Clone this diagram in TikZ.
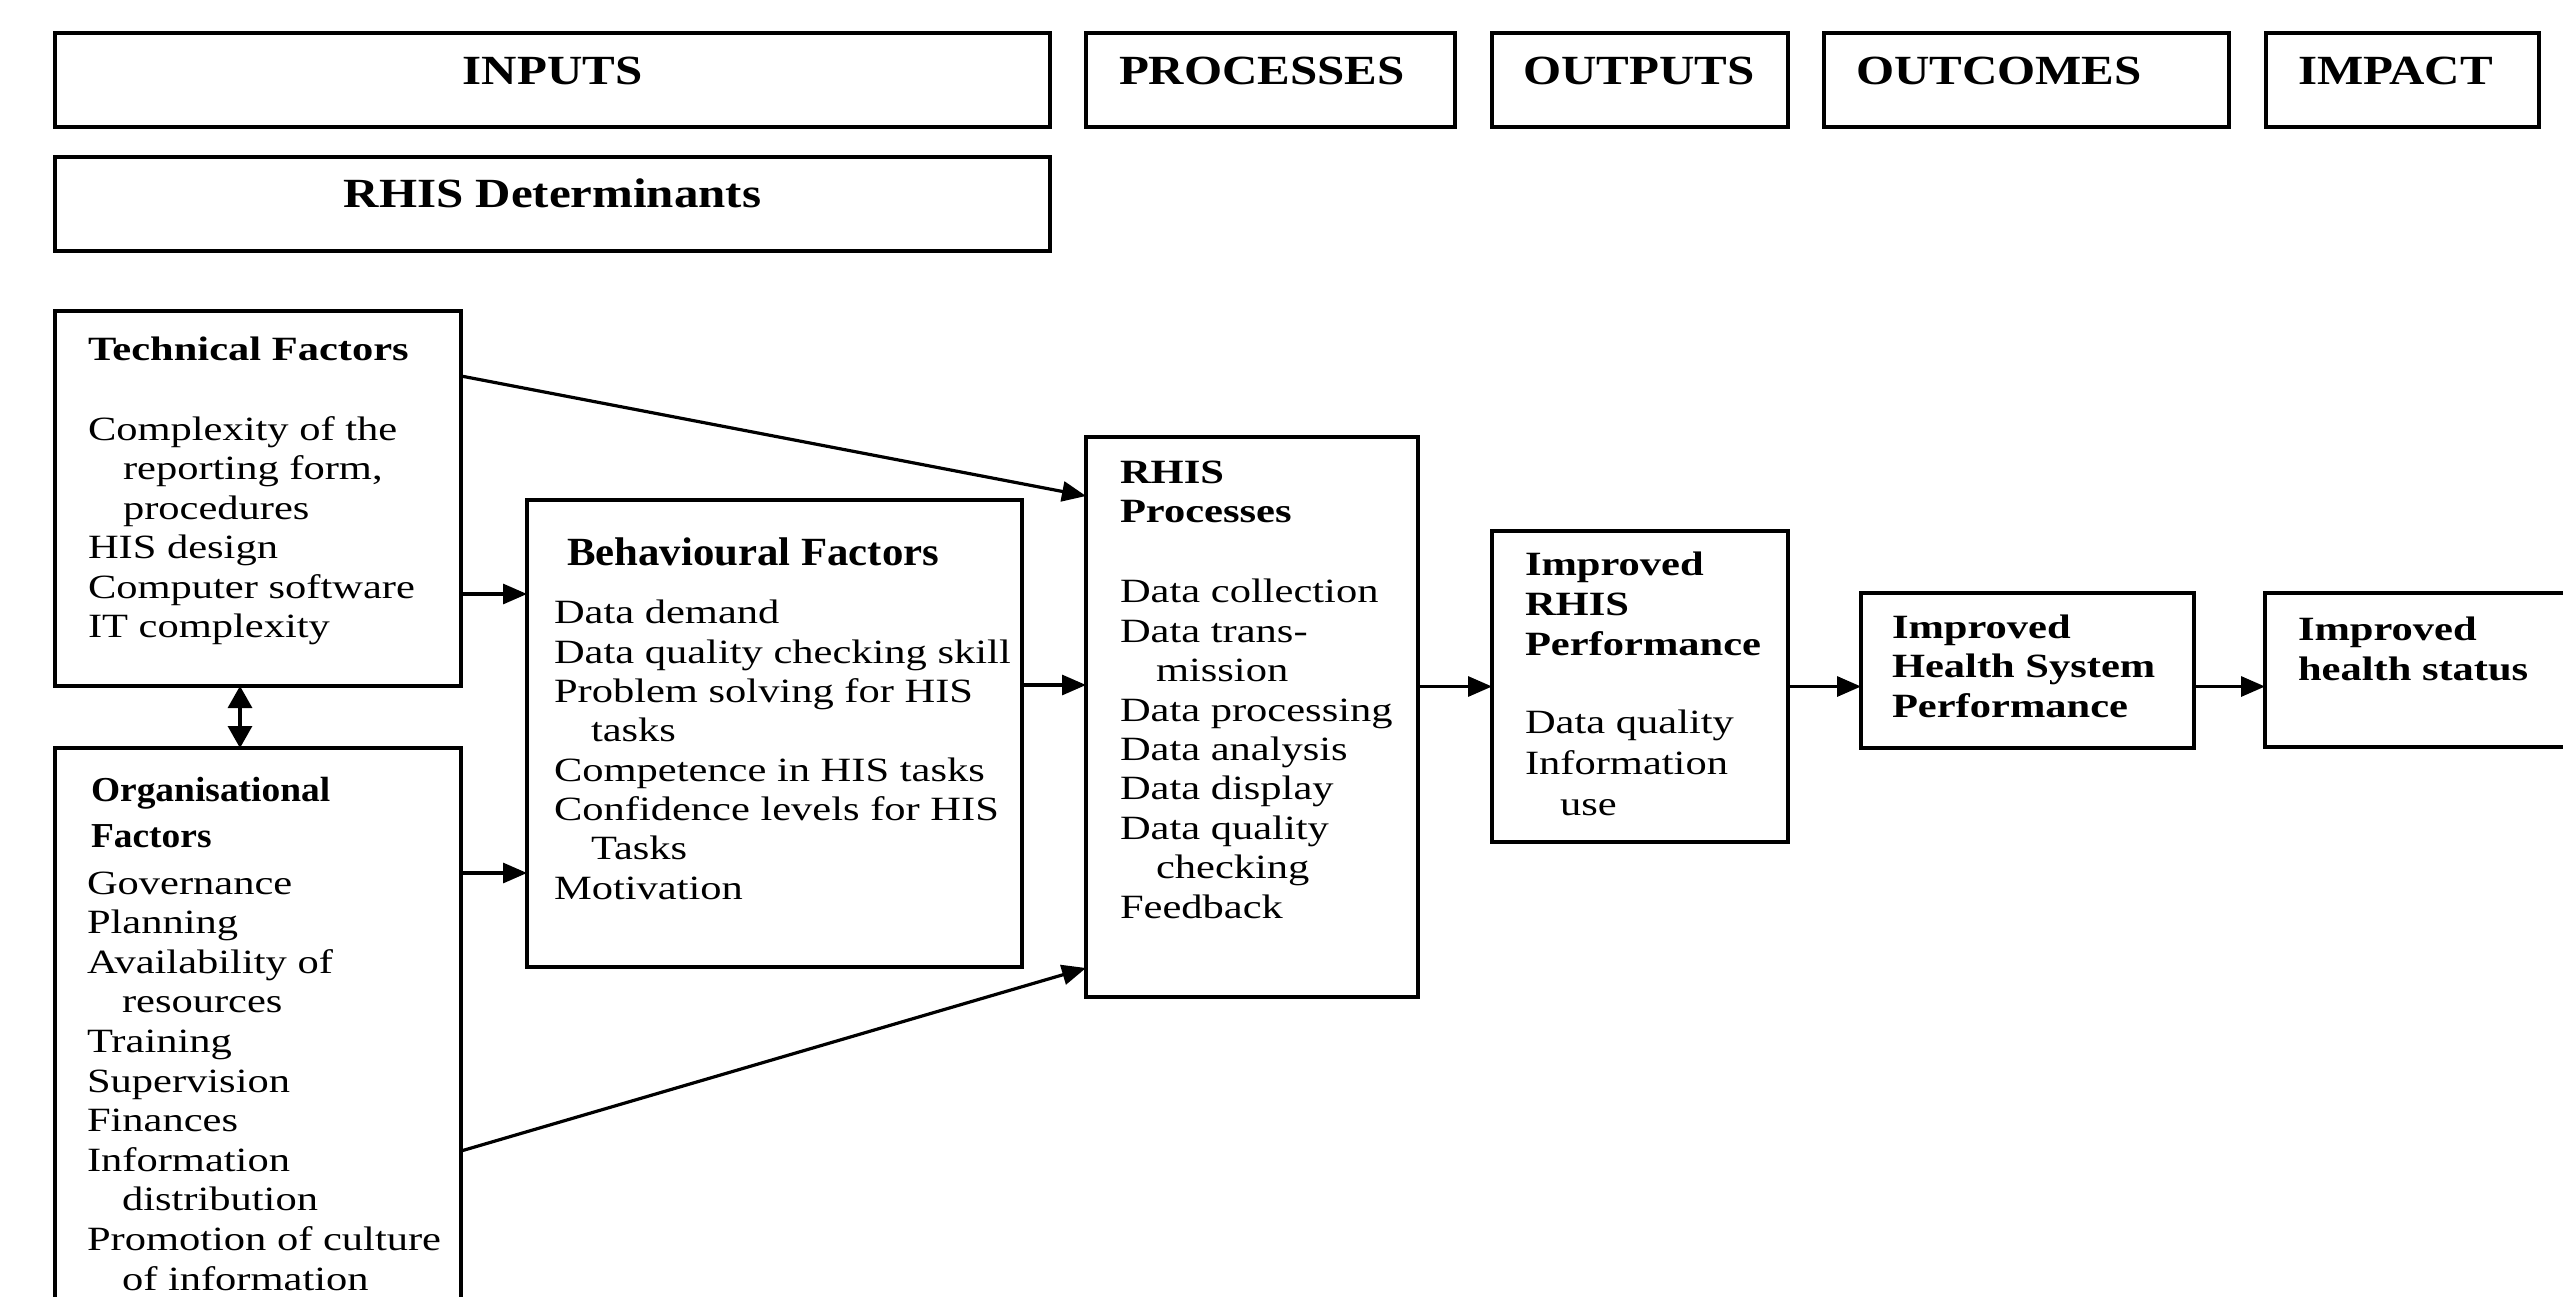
\documentclass[tikz,border=0pt]{standalone}
\usepackage{fontspec}
\setmainfont{Liberation Serif}[FakeStretch=1.25]
\newfontfamily\hdrfont{Liberation Serif}[FakeStretch=1.18]
\newfontfamily\ttlfont{Liberation Serif}[FakeStretch=1.07]
\usetikzlibrary{arrows.meta,calc}
\begin{document}
\begin{tikzpicture}[x=1pt,y=-1pt,
  box/.style={draw, line width=3.8pt, inner sep=0pt, outer sep=0pt, rectangle},
  arr/.style={line width=3.2pt, -{Triangle[length=24pt,width=20pt]}},
  darr/.style={line width=3.2pt, {Triangle[length=22pt,width=24pt]}-{Triangle[length=22pt,width=24pt]}},
  txt/.style={anchor=base west, inner sep=0pt, outer sep=0pt, align=left, font=\fontsize{34}{39.5}\selectfont},
  btxt/.style={txt, font=\bfseries\fontsize{34}{39.5}\selectfont},
  hdr/.style={inner sep=0pt, outer sep=0pt, anchor=base west, font=\hdrfont\bfseries\fontsize{41.5}{48}\selectfont},
  hdrc/.style={hdr, anchor=base},
]
\useasboundingbox (0,0) rectangle (2563,1297);
\clip (0,0) rectangle (2563,1297);
\fill[white] (0,0) rectangle (2563,1297);

% header boxes
\node[box, minimum width=995pt, minimum height=94pt] (inputs) at (552.5,80) {};
\node[box, minimum width=369pt, minimum height=94pt] (procH) at (1270.5,80) {};
\node[box, minimum width=296pt, minimum height=94pt] (outH) at (1640,80) {};
\node[box, minimum width=405pt, minimum height=94pt] (outcH) at (2026.5,80) {};
\node[box, minimum width=273pt, minimum height=94pt] (impH) at (2402.5,80) {};
\node[box, minimum width=995pt, minimum height=94pt] (det) at (552.5,204) {};

\node[hdrc] (inputsT) at (552.5,85) {INPUTS};
\node[hdr] (procHT) at (1119,85) {PROCESSES};
\node[hdr] (outHT) at (1523,85) {OUTPUTS};
\node[hdr] (outcHT) at (1856,85) {OUTCOMES};
\node[hdr] (impHT) at (2298,85) {IMPACT};
\node[hdrc] (detT) at (552.5,208) {RHIS Determinants};

% main boxes
\node[box, minimum width=406pt, minimum height=375pt] (tech) at (258,498.5) {};
\node[box, minimum width=406pt, minimum height=592pt] (org) at (258,1044) {};
\node[box, minimum width=495pt, minimum height=467pt] (beh) at (774.5,733.5) {};
\node[box, minimum width=332pt, minimum height=560pt] (proc) at (1252,717) {};
\node[box, minimum width=296pt, minimum height=311pt] (perf) at (1640,686.5) {};
\node[box, minimum width=333pt, minimum height=155pt] (hsp) at (2027.5,670.5) {};
\node[box, minimum width=355pt, minimum height=154pt] (stat) at (2442.5,670) {};

% texts (multi-line nodes are placed by the baseline of their last line)
\node[btxt] (techT) at (88,360) {Technical Factors};
\node[txt] (techB) at (88,637.5) {Complexity of the\\\hspace*{35pt}reporting form,\\\hspace*{35pt}procedures\\HIS design\\Computer software\\IT complexity};

\node[txt, font=\ttlfont\bfseries\fontsize{35}{46}\selectfont] (orgT) at (91,847) {Organisational\\Factors};
\node[txt, font=\fontsize{34}{39.6}\selectfont] (orgB) at (87,1290) {Governance\\Planning\\Availability of\\\hspace*{35pt}resources\\Training\\Supervision\\Finances\\Information\\\hspace*{35pt}distribution\\Promotion of culture\\\hspace*{35pt}of information};

\node[txt, font=\ttlfont\bfseries\fontsize{40}{46}\selectfont] (behT) at (567,565) {Behavioural Factors};
\node[txt, font=\fontsize{34}{39.3}\selectfont] (behB) at (554,899) {Data demand\\Data quality checking skill\\Problem solving for HIS\\\hspace*{37pt}tasks\\Competence in HIS tasks\\Confidence levels for HIS\\\hspace*{37pt}Tasks\\Motivation};

\node[btxt] (procT) at (1120,522.5) {RHIS\\Processes};
\node[txt, font=\fontsize{34}{39.4}\selectfont] (procB) at (1120,918) {Data collection\\Data trans-\\\hspace*{36pt}mission\\Data processing\\Data analysis\\Data display\\Data quality\\\hspace*{36pt}checking\\Feedback};

\node[btxt, font=\bfseries\fontsize{34}{40}\selectfont] (perfT) at (1525,655) {Improved\\RHIS\\Performance};
\node[txt, font=\fontsize{34}{41}\selectfont] (perfB) at (1525,815) {Data quality\\Information\\\hspace*{35pt}use};

\node[btxt] (hspT) at (1892,717) {Improved\\Health System\\Performance};
\node[btxt, font=\bfseries\fontsize{34}{40}\selectfont] (statT) at (2298,680) {Improved\\health status};

% connectors
\draw[arr] ([yshift=-65pt]tech.north east) -- ([yshift=-59pt]proc.north west);
\draw[arr] ([yshift=-283pt]tech.north east) -- ([yshift=-283pt]tech.north east -| beh.west);
\draw[arr] ([yshift=-185pt]beh.north east) -- ([yshift=-185pt]beh.north east -| proc.west);
\draw[arr] ([yshift=-125pt]org.north east) -- ([yshift=-125pt]org.north east -| beh.west);
\draw[arr] ([yshift=-403pt]org.north east) -- ([yshift=-531pt]proc.north west);
\draw[darr] ([xshift=-18pt]tech.south) -- ([xshift=-18pt]org.north);
\draw[arr] (perf.west -| proc.east) -- (perf.west);
\draw[arr] (perf.east) -- (perf.east -| hsp.west);
\draw[arr] (perf.east -| hsp.east) -- (perf.east -| stat.west);
\end{tikzpicture}
\end{document}
